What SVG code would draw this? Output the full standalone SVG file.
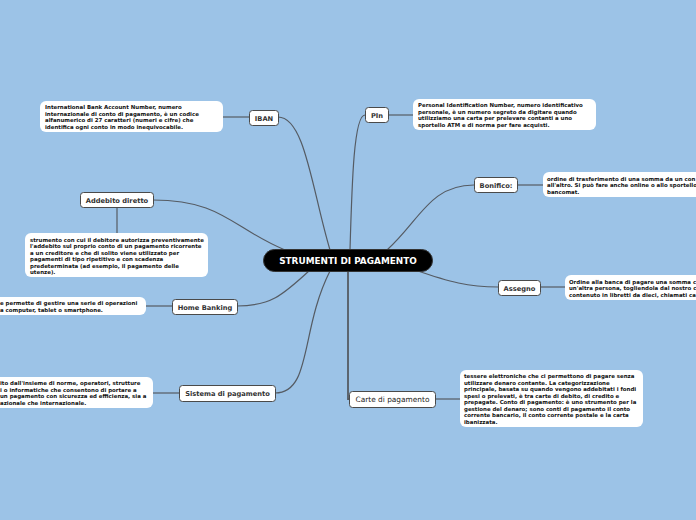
<svg xmlns="http://www.w3.org/2000/svg" width="696" height="520" viewBox="0 0 696 520">
<style>
.bg{fill:#9cc3e7}
.c{fill:none;stroke:#555b63;stroke-width:1.2}
.node rect{fill:#fff;stroke:#4a4a4a;stroke-width:1}
.node text{font-family:"DejaVu Sans",Verdana,sans-serif;font-weight:bold;font-size:6.7px;fill:#333;text-anchor:middle}
.desc rect{fill:#fff;stroke:none}
.desc text{font-family:"DejaVu Sans",Verdana,sans-serif;font-weight:bold;font-size:5.45px;fill:#111}
.root rect{fill:#000;stroke:#333}
.root text{font-family:"DejaVu Sans",Verdana,sans-serif;font-weight:bold;font-size:8.9px;fill:#fff;text-anchor:middle}
</style>
<rect class="bg" x="0" y="0" width="696" height="520"/>
<g id="connectors">
<path class="c" d="M330 250 C312 190 305 117 278 117"/>
<path class="c" d="M350 250 C352 180 354 115 365 115"/>
<path class="c" d="M387 250 C420 220 430 185 474 185"/>
<path class="c" d="M285 250 C232 228 222 200 153 200"/>
<path class="c" d="M415 270 C450 282 468 287 498 287"/>
<path class="c" d="M310 270 C282 296 270 306 237 306"/>
<path class="c" d="M330 271 C300 330 312 393 275 393"/>
<path class="c" d="M348 271 L348 399 L349 399" style="stroke-width:1.8"/>
<path class="c" d="M223 117 L249 117"/>
<path class="c" d="M388 115 L413 115"/>
<path class="c" d="M517 185 L543 185"/>
<path class="c" d="M117 207 L117 233"/>
<path class="c" d="M540 287 L565 287"/>
<path class="c" d="M146 306 L172 306"/>
<path class="c" d="M153 393 L179 393"/>
<path class="c" d="M435 399 L460 399"/>
</g>
<g id="root" class="root"><rect x="263.5" y="249.5" width="169" height="22" rx="11"/><text x="348" y="264.2">STRUMENTI DI PAGAMENTO</text></g>
<g id="iban" class="node"><rect x="249.5" y="110.5" width="29" height="15" rx="3"/><text x="264" y="120.5">IBAN</text></g>
<g id="pin" class="node"><rect x="365.5" y="107.5" width="23" height="15" rx="3"/><text x="377" y="117.5">PIn</text></g>
<g id="bonifico" class="node"><rect x="474.5" y="177.5" width="43" height="15" rx="3"/><text x="496" y="187.5">Bonifico:</text></g>
<g id="addebito" class="node"><rect x="80.5" y="192.5" width="73" height="15" rx="3"/><text x="117" y="202.5">Addebito diretto</text></g>
<g id="assegno" class="node"><rect x="498.5" y="280.5" width="42" height="15" rx="3"/><text x="519.5" y="290.5">Assegno</text></g>
<g id="homebanking" class="node"><rect x="172.5" y="299.5" width="65" height="15" rx="3"/><text x="205" y="309.5">Home Banking</text></g>
<g id="sistema" class="node"><rect x="179.5" y="385.5" width="96" height="16" rx="3"/><text x="227.5" y="396">Sistema di pagamento</text></g>
<g id="carte" class="node"><rect x="349.5" y="391.5" width="86" height="16" rx="3"/><text x="392.5" y="402.2" style="font-weight:normal;font-size:7.4px;fill:#222">Carte di pagamento</text></g>
<g id="iban-desc" class="desc"><rect x="40" y="101" width="183" height="31" rx="6"/>
<text x="45" y="109">International Bank Account Number, numero</text>
<text x="45" y="115.5">internazionale di conto di pagamento, è un codice</text>
<text x="45" y="122">alfanumerico di 27 caratteri (numeri e cifre) che</text>
<text x="45" y="128.5">identifica ogni conto in modo inequivocabile.</text></g>
<g id="pin-desc" class="desc"><rect x="413" y="99" width="183" height="31" rx="6"/>
<text x="418" y="107">Personal Identification Number, numero identificativo</text>
<text x="418" y="113.5">personale, è un numero segreto da digitare quando</text>
<text x="418" y="120">utilizziamo una carta per prelevare contanti a uno</text>
<text x="418" y="126.5">sportello ATM e di norma per fare acquisti.</text></g>
<g id="bonifico-desc" class="desc"><rect x="543" y="172" width="160" height="25" rx="6"/>
<text x="547" y="180.5">ordine di trasferimento di una somma da un con</text>
<text x="547" y="187">all'altro. Si può fare anche online o allo sportello</text>
<text x="547" y="193.5">bancomat.</text></g>
<g id="addebito-desc" class="desc"><rect x="25" y="233" width="183" height="44" rx="6"/>
<text x="30" y="241.5">strumento con cui il debitore autorizza preventivamente</text>
<text x="30" y="248">l'addebito sul proprio conto di un pagamento ricorrente</text>
<text x="30" y="254.5">a un creditore e che di solito viene utilizzato per</text>
<text x="30" y="261">pagamenti di tipo ripetitivo e con scadenza</text>
<text x="30" y="267.5">predeterminata (ad esempio, il pagamento delle</text>
<text x="30" y="274">utenze).</text></g>
<g id="homebanking-desc" class="desc"><rect x="-10" y="297" width="156" height="18" rx="6"/>
<text x="0" y="305">e permette di gestire una serie di operazioni</text>
<text x="0" y="311.5">a computer, tablet o smartphone.</text></g>
<g id="assegno-desc" class="desc"><rect x="565" y="275" width="140" height="25" rx="6"/>
<text x="569" y="283.5">Ordine alla banca di pagare una somma c</text>
<text x="569" y="290">un'altra persona, togliendola dal nostro c</text>
<text x="569" y="296.5">contenuto in libretti da dieci, chiamati ca</text></g>
<g id="sistema-desc" class="desc"><rect x="-10" y="377" width="163" height="31" rx="6"/>
<text x="0" y="385">ito dall'insieme di norme, operatori, strutture</text>
<text x="0" y="391.5">i o informatiche che consentono di portare a</text>
<text x="0" y="398">un pagamento con sicurezza ed efficienza, sia a</text>
<text x="0" y="404.5">azionale che internazionale.</text></g>
<g id="carte-desc" class="desc"><rect x="460" y="370" width="183" height="57" rx="6"/>
<text x="464" y="378">tessere elettroniche che ci permettono di pagare senza</text>
<text x="464" y="384.5">utilizzare denaro contante. La categorizzazione</text>
<text x="464" y="391">principale, basata su quando vengono addebitati i fondi</text>
<text x="464" y="397.5">spesi o prelevati, è tra carte di debito, di credito e</text>
<text x="464" y="404">prepagate. Conto di pagamento: è uno strumento per la</text>
<text x="464" y="410.5">gestione del denaro; sono conti di pagamento il conto</text>
<text x="464" y="417">corrente bancario, il conto corrente postale e la carta</text>
<text x="464" y="423.5">ibanizzata.</text></g>
</svg>
